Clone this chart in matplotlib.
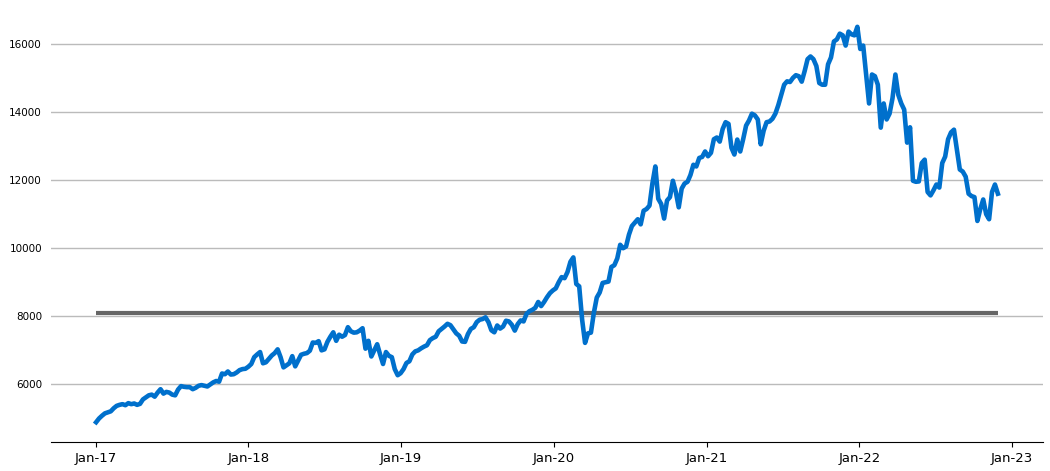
import matplotlib
matplotlib.use("Agg")
import matplotlib.pyplot as plt
import matplotlib.dates as mdates
import pandas as pd

# weekly closes, one list per year
y2017 = [4890, 5000, 5080, 5150, 5180, 5210, 5300, 5370, 5400, 5420, 5390, 5450, 5420,
         5440, 5400, 5430, 5560, 5620, 5680, 5700, 5640, 5760, 5860, 5730, 5780, 5760,
         5700, 5680, 5850, 5950, 5930, 5920, 5920, 5860, 5900, 5960, 5980, 5960, 5940,
         6000, 6060, 6100, 6080, 6320, 6300, 6380, 6290, 6300, 6350, 6420, 6450, 6460]
y2018 = [6520, 6600, 6800, 6880, 6950, 6620, 6650, 6750, 6850, 6920, 7030, 6800, 6500,
         6560, 6620, 6830, 6530, 6700, 6870, 6900, 6920, 6990, 7230, 7220, 7270, 7000,
         7030, 7250, 7400, 7530, 7280, 7460, 7400, 7450, 7680, 7560, 7520, 7530, 7580,
         7650, 7050, 7280, 6820, 7000, 7180, 6880, 6600, 6950, 6840, 6800, 6450, 6270]
y2019 = [6330, 6450, 6630, 6680, 6880, 6970, 7000, 7060, 7110, 7150, 7300, 7360, 7400,
         7560, 7630, 7700, 7780, 7740, 7620, 7500, 7430, 7260, 7250, 7480, 7630, 7680,
         7830, 7900, 7920, 7970, 7830, 7590, 7530, 7730, 7640, 7700, 7870, 7850, 7750,
         7580, 7770, 7880, 7850, 8070, 8150, 8190, 8250, 8420, 8300, 8420, 8560, 8680]
y2020 = [8760, 8820, 9000, 9150, 9120, 9300, 9600, 9730, 8950, 8880, 7900, 7220, 7500,
         7520, 8100, 8550, 8700, 8980, 9000, 9020, 9450, 9500, 9700, 10100, 10000, 10050,
         10400, 10650, 10750, 10850, 10700, 11100, 11150, 11250, 11900, 12400, 11450, 11300,
         10870, 11400, 11500, 11980, 11650, 11200, 11750, 11900, 11950, 12150, 12450, 12400,
         12650, 12680]
y2021 = [12840, 12700, 12800, 13200, 13250, 13130, 13500, 13700, 13650, 12950, 12750, 13190,
         12840, 13200, 13600, 13750, 13950, 13900, 13780, 13050, 13450, 13700, 13720, 13800,
         13950, 14200, 14500, 14800, 14900, 14880, 15000, 15080, 15050, 14890, 15200, 15550,
         15630, 15550, 15350, 14850, 14800, 14800, 15400, 15600, 16070, 16130, 16300, 16250,
         15950, 16360, 16280, 16250]
y2022 = [16500, 15850, 15950, 15100, 14250, 15100, 15050, 14800, 13540, 14250, 13780, 13950,
         14400, 15100, 14500, 14250, 14070, 13100, 13550, 11980, 11950, 11960, 12500, 12600,
         11650, 11550, 11700, 11870, 11780, 12500, 12690, 13200, 13400, 13480, 12900, 12310,
         12250, 12100, 11600, 11530, 11500, 10800, 11150, 11430, 11000, 10850, 11650, 11870,
         11600]
ref_level = 8110

values = y2017 + y2018 + y2019 + y2020 + y2021 + y2022
dates = pd.date_range("2017-01-02", periods=len(values), freq="7D")

fig = plt.figure(figsize=(10.5, 4.71), dpi=100)
ax = fig.add_axes([0.0486, 0.0616, 0.9447, 0.9234])

ax.plot(dates, values, color="#0070cc", lw=3.3, zorder=3)
ax.hlines(ref_level, dates[0], dates[-1], color="#666666", lw=3, zorder=2)

ax.xaxis.set_major_locator(mdates.YearLocator())
ax.xaxis.set_major_formatter(mdates.DateFormatter("%b-%y"))
ax.set_yticks([6000, 8000, 10000, 12000, 14000, 16000])
ax.grid(axis="y", color="#bbbbbb", lw=1)
ax.set_axisbelow(True)

for s in ["top", "right", "left"]:
    ax.spines[s].set_visible(False)
ax.tick_params(axis="y", length=0, pad=6.5, labelsize=7.5)
ax.tick_params(axis="x", labelsize=9.5)

fig.savefig("out.png", dpi=100)
